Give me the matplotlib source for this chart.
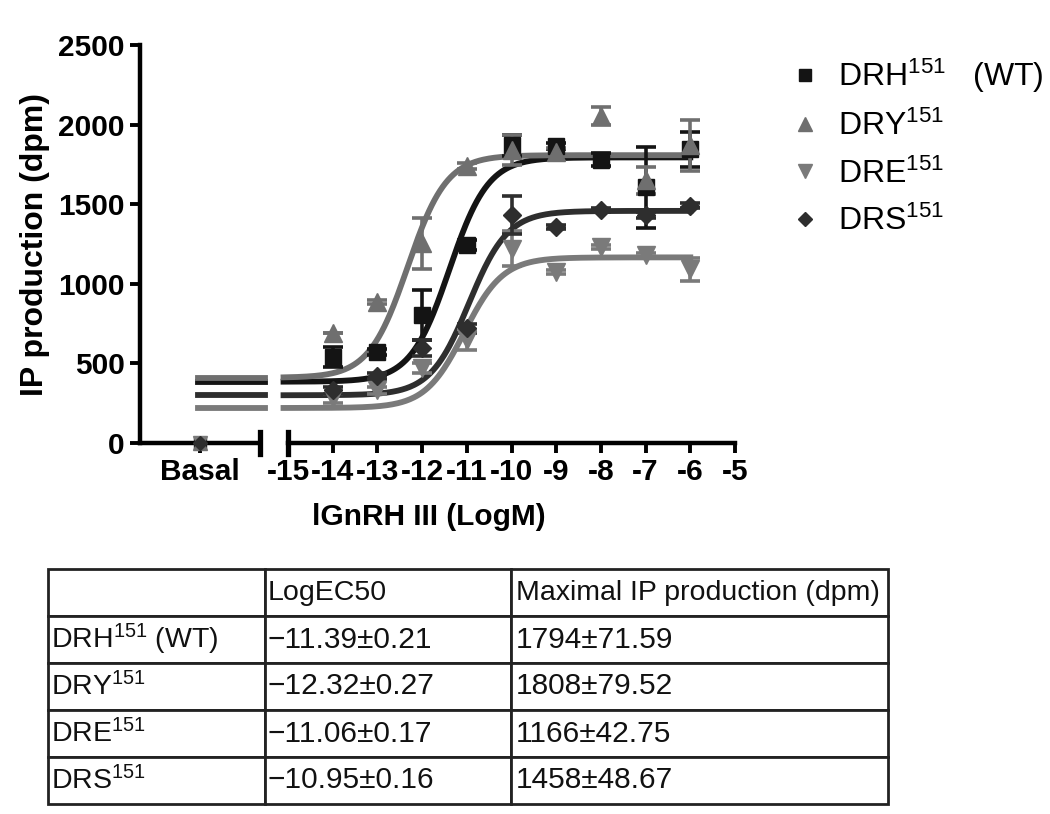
import matplotlib
matplotlib.use("Agg")
import matplotlib.pyplot as plt
from matplotlib.lines import Line2D
import numpy as np

plt.rcParams['font.family'] = ['Liberation Sans', 'DejaVu Sans']
plt.rcParams['mathtext.fontset'] = 'custom'
plt.rcParams['mathtext.rm'] = 'Liberation Sans'
plt.rcParams['mathtext.it'] = 'Liberation Sans:italic'
plt.rcParams['mathtext.bf'] = 'Liberation Sans:bold'
plt.rcParams['axes.unicode_minus'] = False

# log concentration of lGnRH III
log_conc = [-14, -13, -12, -11, -10, -9, -8, -7, -6]
x_ticks = [-15, -14, -13, -12, -11, -10, -9, -8, -7, -6, -5]

names = ["DRH", "DRY", "DRE", "DRS"]
markers = ["s", "^", "v", "D"]
marker_sizes = [11.5, 12.5, 12.5, 9.5]
colors = ["#141414", "#6f6f6f", "#7a7a7a", "#2e2e2e"]

drh_mean = [540, 572, 804, 1244, 1870, 1865, 1780, 1605, 1845]
drh_sem = [60, 20, 155, 30, 65, 20, 40, 255, 110]
dry_mean = [691, 886, 1256, 1740, 1840, 1830, 2055, 1650, 1870]
dry_sem = [0, 10, 160, 20, 95, 20, 55, 85, 160]
dre_mean = [280, 330, 470, 647, 1220, 1074, 1231, 1181, 1090]
dre_sem = [30, 20, 30, 60, 110, 15, 15, 15, 75]
drs_mean = [330, 420, 595, 720, 1430, 1357, 1464, 1432, 1490]
drs_sem = [20, 20, 50, 30, 120, 15, 15, 20, 15]

basal_mean = [0, 0, 0, 0]
basal_sem = [20, 20, 20, 20]

# fitted sigmoid parameters (bottom from graph, top / logEC50 from table)
bottoms = [385, 410, 220, 300]
tops = [1794, 1808, 1166, 1458]
log_ec50 = [-11.39, -12.32, -11.06, -10.95]

# table text
row_labels = ["DRH$^{151}$ (WT)", "DRY$^{151}$", "DRE$^{151}$", "DRS$^{151}$"]
col_labels = ["", "LogEC50", "Maximal IP production (dpm)"]
ec50_text = ["\u221211.39\u00b10.21", "\u221212.32\u00b10.27", "\u221211.06\u00b10.17", "\u221210.95\u00b10.16"]
max_text = ["1794\u00b171.59", "1808\u00b179.52", "1166\u00b142.75", "1458\u00b148.67"]

means = [drh_mean, dry_mean, dre_mean, drs_mean]
sems = [drh_sem, dry_sem, dre_sem, drs_sem]

W, H = 1050, 814
fig = plt.figure(figsize=(W / 100, H / 100), dpi=100)

# broken x axis: basal part and concentration part
ax_b = fig.add_axes([140 / W, 371 / H, 120 / W, 398 / H])
ax_c = fig.add_axes([288 / W, 371 / H, 447 / W, 398 / H])

for ax in (ax_b, ax_c):
    ax.set_ylim(0, 2500)
    ax.patch.set_alpha(0)
    ax.spines['top'].set_visible(False)
    ax.spines['right'].set_visible(False)
    ax.spines['bottom'].set_linewidth(3.2)
    ax.spines['left'].set_linewidth(3.2)
    ax.tick_params(width=2.8, length=7, labelsize=21.5, pad=4)

ax_c.spines['left'].set_visible(False)
ax_c.set_yticks([])
ax_b.set_xlim(0, 1)
ax_b.set_xticks([0.5])
ax_b.set_xticklabels(["Basal"])
ax_b.set_yticks([0, 500, 1000, 1500, 2000, 2500])
ax_c.set_xlim(-15, -5)
ax_c.set_xticks(x_ticks)
ax_c.set_xticklabels([str(t) for t in x_ticks])

for lbl in ax_b.get_xticklabels() + ax_b.get_yticklabels() + ax_c.get_xticklabels():
    lbl.set_fontweight("bold")

# break marks
ax_b.plot([1, 1], [-0.028, 0.028], transform=ax_b.transAxes, color="black", lw=3.8, clip_on=False)
ax_c.plot([0, 0], [-0.028, 0.028], transform=ax_c.transAxes, color="black", lw=3.8, clip_on=False)

xs = np.linspace(-15.1, -6, 300)
for i in range(4):
    c = colors[i]
    # fitted curve
    ys = bottoms[i] + (tops[i] - bottoms[i]) / (1 + 10 ** (log_ec50[i] - xs))
    ax_c.plot(xs, ys, color=c, lw=4.2, clip_on=False, zorder=2)
    ax_b.plot([0.48, 1.04], [bottoms[i], bottoms[i]], color=c, lw=4.2, clip_on=False, zorder=2)
    ax_c.errorbar(log_conc, means[i], yerr=sems[i], fmt=markers[i], color=c,
                  markersize=marker_sizes[i], elinewidth=2.6, capsize=7.5, capthick=2.6,
                  clip_on=False, zorder=3)
    ax_b.errorbar([0.5], [basal_mean[i]], yerr=[basal_sem[i]], fmt=markers[i], color=c,
                  markersize=marker_sizes[i] * 0.8, elinewidth=2.6, capsize=0,
                  clip_on=False, zorder=3)

ax_b.set_ylabel("IP production (dpm)", fontsize=23, fontweight="bold")
ax_b.yaxis.set_label_coords(-0.75, 0.5)
fig.text(429 / W, 1 - 517 / H, "lGnRH III (LogM)", fontsize=21.5, fontweight="bold",
         ha="center", va="center")

# legend
handles = [Line2D([], [], marker=markers[i], color=colors[i], linestyle="None",
                  markersize=marker_sizes[i] * 0.75) for i in range(4)]
labels = ["DRH$^{151}$   (WT)", "DRY$^{151}$", "DRE$^{151}$", "DRS$^{151}$"]
fig.legend(handles, labels, loc="upper left", bbox_to_anchor=(776 / W, 1 - 44 / H),
           frameon=False, fontsize=23, handlelength=1.0, handletextpad=0.55,
           labelspacing=0.5, borderaxespad=0)

# summary table
ax_t = fig.add_axes([48 / W, 10 / H, 840 / W, 235 / H])
ax_t.axis("off")
cell_text = [col_labels] + [[row_labels[i], ec50_text[i], max_text[i]] for i in range(4)]
tbl = ax_t.table(cellText=cell_text, colWidths=[217, 246, 377], cellLoc="left",
                 bbox=[0, 0, 1, 1])
tbl.auto_set_font_size(False)
for (r, col), cell in tbl.get_celld().items():
    cell.set_linewidth(2)
    cell.set_edgecolor("#222222")
    cell.PAD = 0.012
    if r == 0 or col == 0:
        cell.get_text().set_fontsize(20.5)
    else:
        cell.get_text().set_fontsize(21.5)
    cell.get_text().set_color("#111111")

fig.savefig("out.png", dpi=100)
